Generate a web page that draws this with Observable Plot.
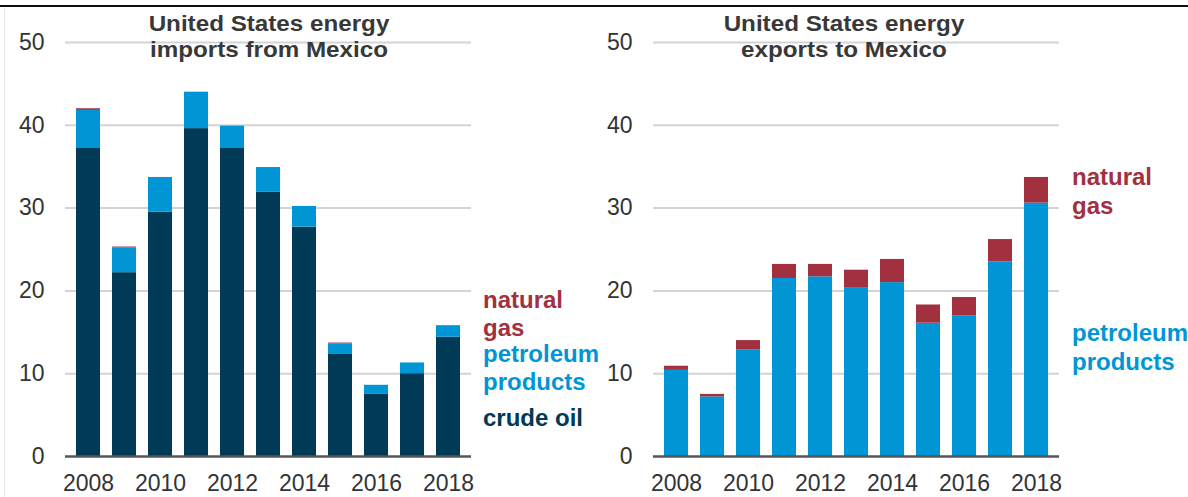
<!DOCTYPE html>
<html><head><meta charset="utf-8">
<script src="https://cdn.jsdelivr.net/npm/d3@7"></script>
<script src="https://cdn.jsdelivr.net/npm/@observablehq/plot@0.6"></script>
<style>
body{margin:0;background:#fff;font-family:"Liberation Sans",Arial,sans-serif;}
#wrap{position:relative;width:1188px;height:497px;overflow:hidden;}
.panel{position:absolute;top:0;}
.t{position:absolute;font-weight:bold;font-size:22px;color:#383838;text-align:center;line-height:26px;white-space:nowrap;transform:scaleX(1.1);transform-origin:center top;}
.lg{position:absolute;font-weight:bold;font-size:24px;line-height:28px;white-space:nowrap;}
</style></head>
<body><div id="wrap"></div>
<script>
const years = [2008,2009,2010,2011,2012,2013,2014,2015,2016,2017,2018];
// imports from Mexico
const impCrude = [37.2,22.2,29.5,39.6,37.2,31.9,27.7,12.4,7.5,10.0,14.4];
const impPetro = [4.6,3.0,4.1,4.4,2.7,3.0,2.5,1.2,1.1,1.3,1.4];
const impGas   = [0.2,0.1,0.1,0.0,0.0,0.0,0.0,0.1,0.0,0.0,0.0];
// exports to Mexico
const expPetro = [10.4,7.2,12.9,21.5,21.7,20.4,21.0,16.1,17.0,23.5,30.6];
const expGas   = [0.5,0.3,1.1,1.7,1.5,2.1,2.8,2.2,2.2,2.7,3.1];
const yTicks = [0,10,20,30,40,50];
const xTicks = [2008,2010,2012,2014,2016,2018];
const types = ["crude oil","petroleum products","natural gas"];
const colors = ["#003a57","#0096d6","#a3303f"];

const wrap = document.getElementById("wrap");

function rows(series){
  const out=[];
  series.forEach(([type,vals])=>vals.forEach((v,i)=>out.push({year:years[i],type,value:v})));
  return out;
}

function panel(data, opts){
  const p = Plot.plot({
    width: opts.width, height: 497,
    marginTop: 42, marginBottom: 41,
    marginLeft: opts.ml, marginRight: opts.mr,
    style:{fontFamily:'"Liberation Sans",Arial,sans-serif', fontSize:"23px", color:"#333", background:"transparent"},
    x:{type:"band", domain:years, paddingInner:opts.pi, paddingOuter:opts.po, label:null},
    y:{domain:[0,50], label:null},
    color:{domain:types, range:colors},
    marks:[
      Plot.gridY(yTicks.filter(d=>d>0),{stroke:"#d4d4d4", strokeOpacity:1, strokeWidth:2}),
      Plot.barY(data,{x:"year", y:"value", fill:"type", order:types}),
      Plot.ruleY([0],{stroke:"#555", strokeWidth:2.5}),
      Plot.axisX({ticks:xTicks, tickFormat:d=>String(d), tickSize:0, tickPadding:18, fontSize:23, label:null}),
      Plot.axisY({ticks:yTicks, tickSize:0, tickPadding:21, fontSize:23, label:null})
    ]
  });
  p.classList.add("panel");
  p.style.left = opts.left + "px";
  p.style.position = "absolute";
  wrap.appendChild(p);
}

panel(rows([["crude oil",impCrude],["petroleum products",impPetro],["natural gas",impGas]]),
  {width:600,left:0,ml:65,mr:129,pi:0.32,po:0.16});
panel(rows([["petroleum products",expPetro],["natural gas",expGas]]),
  {width:600,left:588,ml:65,mr:129,pi:0.32,po:0.16});

function addDiv(cls, html, css){
  const d=document.createElement("div"); d.className=cls; d.innerHTML=html;
  Object.assign(d.style, css); wrap.appendChild(d); return d;
}
// frame lines
addDiv("", "", {position:"absolute",left:"0px",top:"5px",width:"1188px",height:"2px",background:"#111"});
addDiv("", "", {position:"absolute",left:"4px",top:"8px",width:"1px",height:"489px",background:"#e6e6e6"});
// titles
addDiv("t","United States energy<br>imports from Mexico",{left:"119px",top:"11px",width:"300px"});
addDiv("t","United States energy<br>exports to Mexico",{left:"694px",top:"11px",width:"300px"});
// legend labels
addDiv("lg",'<span style="color:#a3303f">natural<br>gas</span>',{left:"483px",top:"286px"});
addDiv("lg",'<span style="color:#0096d6">petroleum<br>products</span>',{left:"483px",top:"340px"});
addDiv("lg",'<span style="color:#003a57">crude oil</span>',{left:"483px",top:"404px"});
addDiv("lg",'<span style="color:#a3303f">natural<br>gas</span>',{left:"1072px",top:"162px",lineHeight:"29px"});
addDiv("lg",'<span style="color:#0096d6">petroleum<br>products</span>',{left:"1072px",top:"318px",lineHeight:"29px"});
</script>
</body></html>
